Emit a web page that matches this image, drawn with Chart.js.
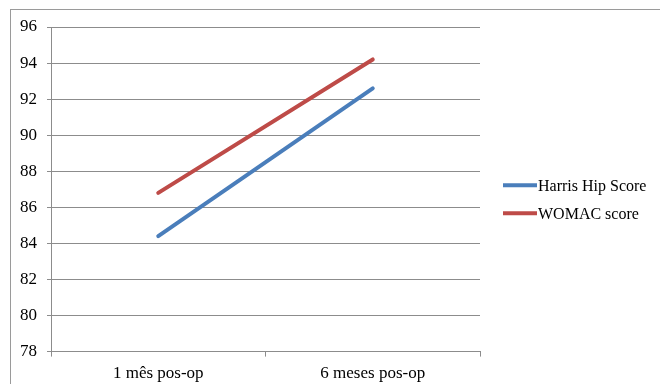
<!DOCTYPE html>
<html>
<head>
<meta charset="utf-8">
<script src="https://cdn.jsdelivr.net/npm/chart.js@4.4.0/dist/chart.umd.min.js"></script>
<style>
    body { margin: 0; background: #ffffff; }
    #moldura {
        position: absolute; left: 10px; top: 9px; width: 700px; height: 400px;
        border-left: 1px solid #9a9a9a; border-top: 1px solid #9a9a9a;
    }
    #caixa { position: absolute; left: 0; top: 0; width: 660px; height: 384px; }
</style>
</head>
<body>
<div id="moldura"></div>
<div id="caixa"><canvas id="myChartCanvas1"></canvas></div>
<script>
// dados do gráfico
const categorias = ["1 mês pos-op", "6 meses pos-op"];
const harrisHip = [84.4, 92.6];
const womac = [86.8, 94.2];
const ticksY = [78, 80, 82, 84, 86, 88, 90, 92, 94, 96];

const fonteTexto = "'Liberation Serif', 'Times New Roman', serif";
const corGrade = "#8c8c8c";

// legenda desenhada ao lado direito da área do gráfico
const legendaLateral = {
    id: "legendaLateral",
    afterDraw(chart) {
        const ctx = chart.ctx;
        const area = chart.chartArea;
        const meio = (area.top + area.bottom) / 2 + 10;
        ctx.save();
        ctx.font = "16px " + fonteTexto;
        ctx.textBaseline = "middle";
        chart.data.datasets.forEach((ds, i) => {
            const y = meio - 14 + i * 28;
            const x = area.right + 23;
            ctx.strokeStyle = ds.borderColor;
            ctx.lineWidth = 4;
            ctx.beginPath();
            ctx.moveTo(x, y);
            ctx.lineTo(x + 34, y);
            ctx.stroke();
            ctx.fillStyle = "#000000";
            ctx.fillText(ds.label, x + 35, y + 1);
        });
        ctx.restore();
    }
};

let dados = {
    labels: categorias,
    datasets: [
        {
            label: "Harris Hip Score",
            data: harrisHip,
            borderColor: "#4a7ebb",
            backgroundColor: "#4a7ebb",
            borderWidth: 4,
            pointRadius: 0,
            tension: 0,
            borderCapStyle: "round"
        },
        {
            label: "WOMAC score",
            data: womac,
            borderColor: "#be4b48",
            backgroundColor: "#be4b48",
            borderWidth: 4,
            pointRadius: 0,
            tension: 0,
            borderCapStyle: "round"
        }
    ]
};

const config = {
    type: "line",
    data: dados,
    options: {
        responsive: true,
        maintainAspectRatio: false,
        animation: false,
        layout: { padding: { left: 10, top: 27, right: 180, bottom: -7 } },
        plugins: {
            legend: { display: false },
            tooltip: { enabled: false }
        },
        scales: {
            x: {
                offset: true,
                grid: {
                    offset: true,
                    drawOnChartArea: false,
                    drawTicks: true,
                    tickLength: 5,
                    color: corGrade
                },
                border: { color: corGrade },
                ticks: {
                    color: "#000000",
                    padding: 7,
                    font: { family: fonteTexto, size: 17 }
                }
            },
            y: {
                min: ticksY[0],
                max: ticksY[ticksY.length - 1],
                afterBuildTicks: (eixo) => { eixo.ticks = ticksY.map(v => ({ value: v })); },
                grid: {
                    color: corGrade,
                    drawTicks: true,
                    tickLength: 4
                },
                border: { color: corGrade },
                ticks: {
                    color: "#000000",
                    padding: 10,
                    font: { family: fonteTexto, size: 17 }
                }
            }
        }
    },
    plugins: [legendaLateral]
};

let myChart = new Chart(document.getElementById("myChartCanvas1"), config);
</script>
</body>
</html>
